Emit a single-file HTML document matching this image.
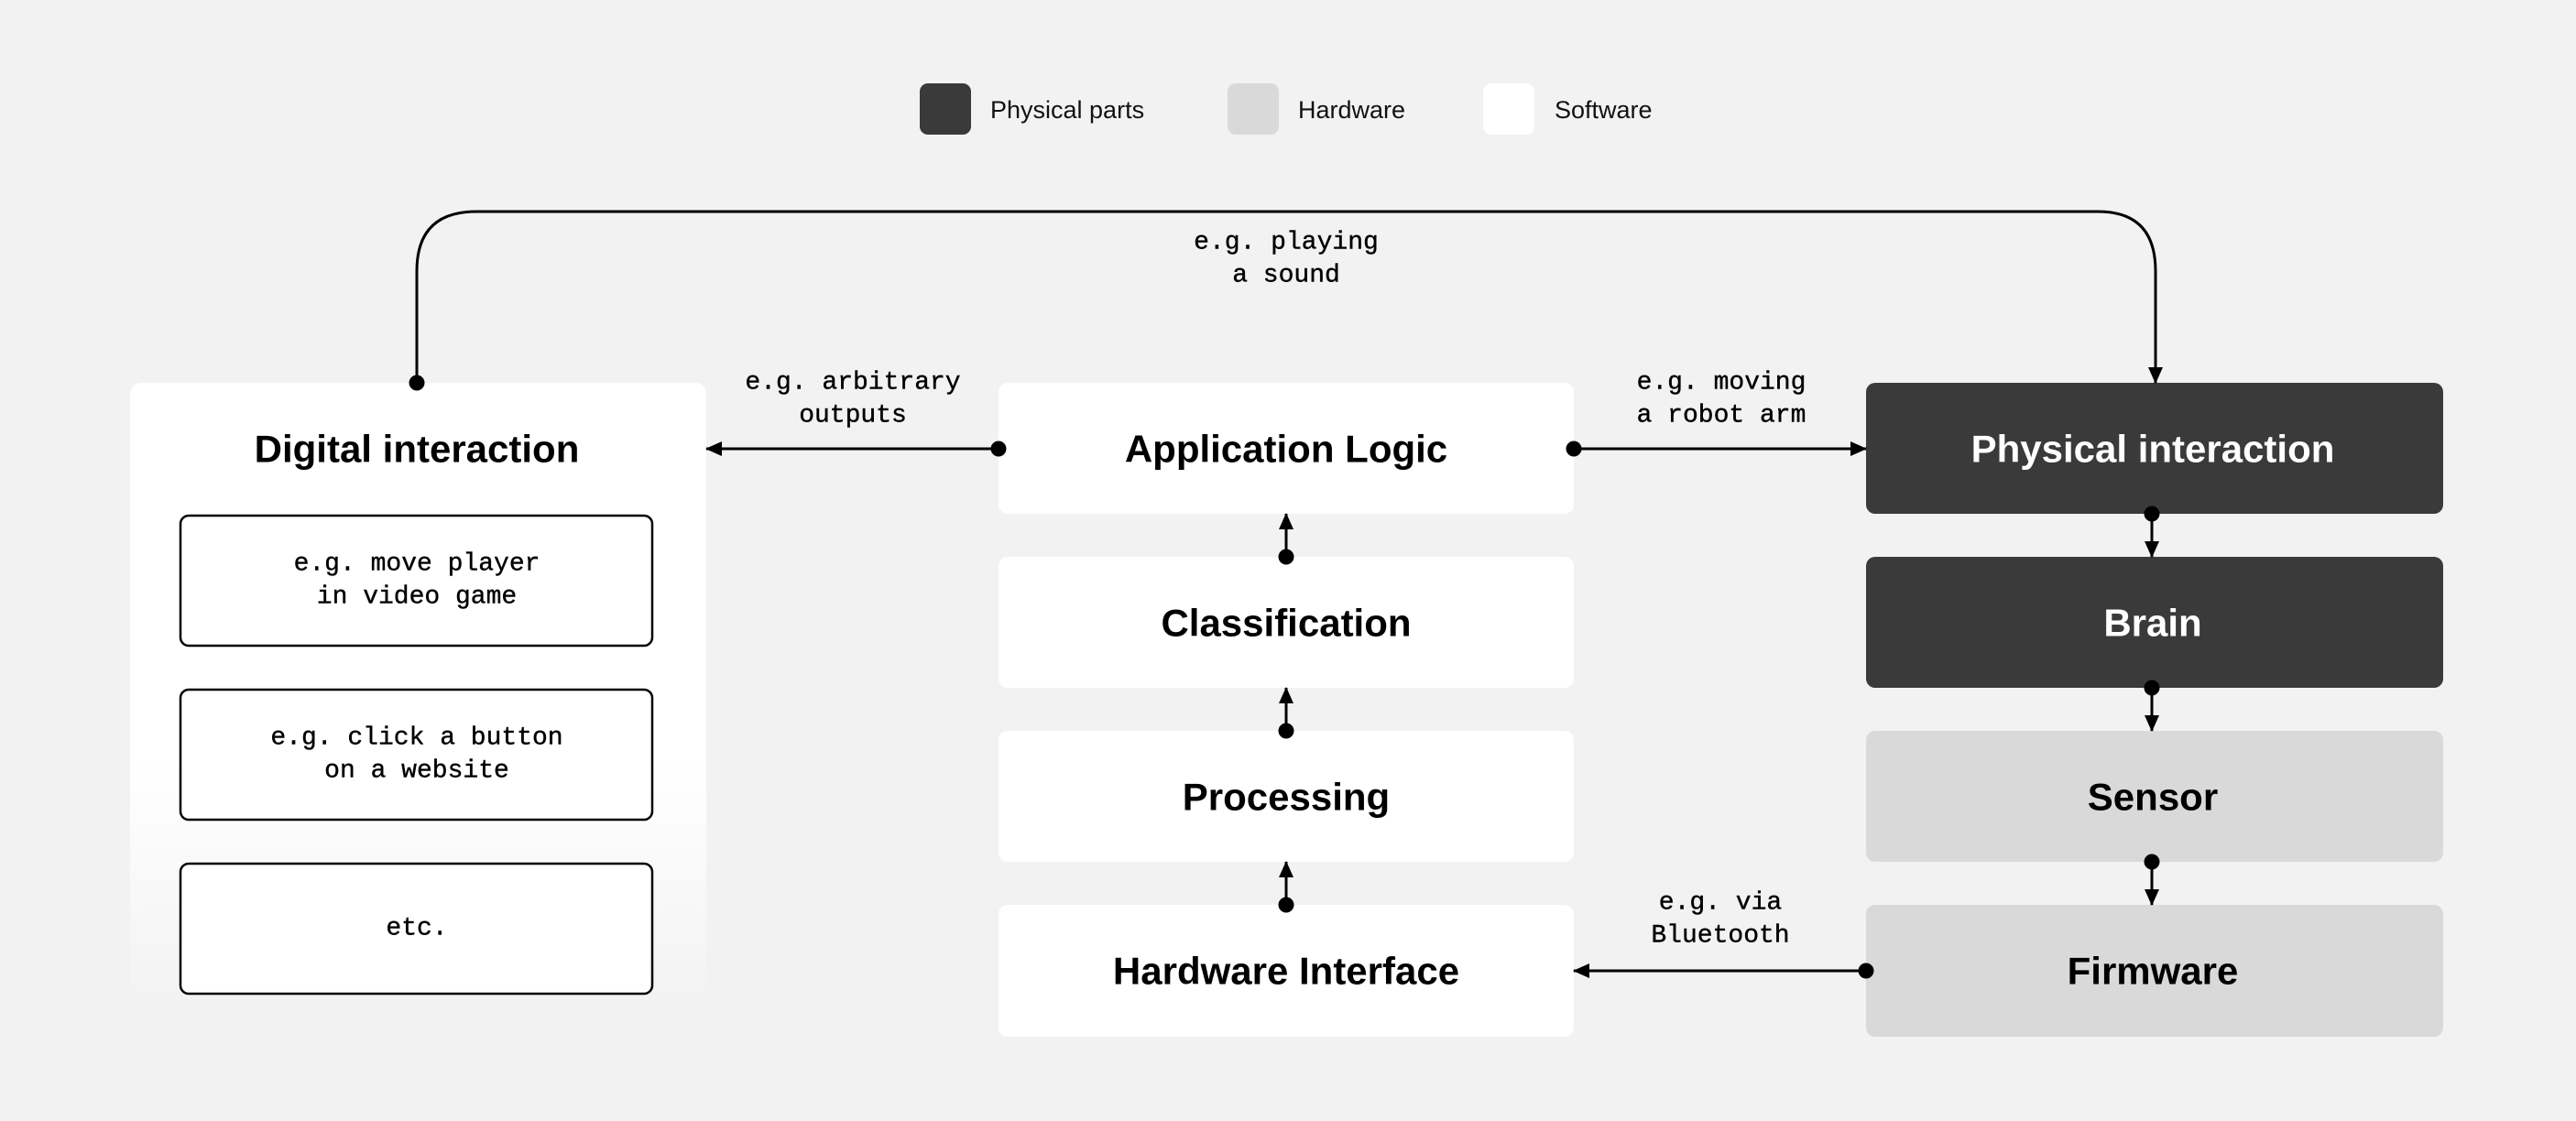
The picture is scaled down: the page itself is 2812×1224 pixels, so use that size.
<!DOCTYPE html>
<html><head><meta charset="utf-8"><style>
html,body{margin:0;padding:0;background:#f2f2f2;}
svg{display:block;}
.t{font-family:"Liberation Sans",sans-serif;font-weight:bold;font-size:42px;text-anchor:middle;dominant-baseline:central;}
.m{font-family:"Liberation Mono",monospace;font-size:28px;text-anchor:middle;dominant-baseline:central;fill:#000;stroke:#000;stroke-width:0.4;}
.l{font-family:"Liberation Sans",sans-serif;font-size:27px;dominant-baseline:central;fill:#111;}
</style></head><body>
<svg width="2812" height="1224" viewBox="0 0 2812 1224" xmlns="http://www.w3.org/2000/svg">
<defs>
<linearGradient id="g" x1="0" y1="0" x2="0" y2="1">
<stop offset="0.6" stop-color="#fff"/><stop offset="1" stop-color="#f2f2f2"/>
</linearGradient>
<marker id="a" markerWidth="18" markerHeight="18" refX="17" refY="9" orient="auto" markerUnits="userSpaceOnUse" viewBox="0 0 18 18"><path d="M0,1 L18,9 L0,17 Z" fill="#000"/></marker>
</defs>
<rect width="2812" height="1224" fill="#f2f2f2"/>
<rect x="1004" y="91" width="56" height="56" rx="9" fill="#3a3a3a"/>
<text class="l" x="1081" y="120">Physical parts</text>
<rect x="1340" y="91" width="56" height="56" rx="9" fill="#d9d9d9"/>
<text class="l" x="1417" y="120">Hardware</text>
<rect x="1619" y="91" width="56" height="56" rx="9" fill="#fff"/>
<text class="l" x="1697" y="120">Software</text>
<rect x="142" y="418" width="629" height="685" rx="12" fill="url(#g)"/>
<text class="t" x="455" y="490">Digital interaction</text>
<g fill="#fff" stroke="#000" stroke-width="2.5">
<rect x="197" y="563" width="515" height="142" rx="9"/>
<rect x="197" y="753" width="515" height="142" rx="9"/>
<rect x="197" y="943" width="515" height="142" rx="9"/>
</g>
<text class="m" x="455" y="616">e.g. move player</text>
<text class="m" x="455" y="652">in video game</text>
<text class="m" x="455" y="806">e.g. click a button</text>
<text class="m" x="455" y="842">on a website</text>
<text class="m" x="455" y="1014">etc.</text>
<g fill="#fff">
<rect x="1090" y="418" width="628" height="143" rx="10"/>
<rect x="1090" y="608" width="628" height="143" rx="10"/>
<rect x="1090" y="798" width="628" height="143" rx="10"/>
<rect x="1090" y="988" width="628" height="144" rx="10"/>
</g>
<text class="t" x="1404" y="490">Application Logic</text>
<text class="t" x="1404" y="680">Classification</text>
<text class="t" x="1404" y="870">Processing</text>
<text class="t" x="1404" y="1060">Hardware Interface</text>
<rect x="2037" y="418" width="630" height="143" rx="10" fill="#3a3a3a"/>
<rect x="2037" y="608" width="630" height="143" rx="10" fill="#3a3a3a"/>
<rect x="2037" y="798" width="630" height="143" rx="10" fill="#d9d9d9"/>
<rect x="2037" y="988" width="630" height="144" rx="10" fill="#d9d9d9"/>
<text class="t" x="2350" y="490" fill="#fff">Physical interaction</text>
<text class="t" x="2350" y="680" fill="#fff">Brain</text>
<text class="t" x="2350" y="870">Sensor</text>
<text class="t" x="2350" y="1060">Firmware</text>
<g stroke="#000" stroke-width="3" fill="none">
<path d="M455,418 V296 Q455,231 520,231 H2290 Q2353,231 2353,296 V418" marker-end="url(#a)"/>
<path d="M1090,490 H771" marker-end="url(#a)"/>
<path d="M1718,490 H2037" marker-end="url(#a)"/>
<path d="M2037,1060 H1718" marker-end="url(#a)"/>
<path d="M1404,608 V561" marker-end="url(#a)"/>
<path d="M1404,798 V751" marker-end="url(#a)"/>
<path d="M1404,988 V941" marker-end="url(#a)"/>
<path d="M2349,561 V608" marker-end="url(#a)"/>
<path d="M2349,751 V798" marker-end="url(#a)"/>
<path d="M2349,941 V988" marker-end="url(#a)"/>
</g>
<g fill="#000">
<circle cx="455" cy="418" r="8.5"/>
<circle cx="1090" cy="490" r="8.5"/>
<circle cx="1718" cy="490" r="8.5"/>
<circle cx="2037" cy="1060" r="8.5"/>
<circle cx="1404" cy="608" r="8.5"/>
<circle cx="1404" cy="798" r="8.5"/>
<circle cx="1404" cy="988" r="8.5"/>
<circle cx="2349" cy="561" r="8.5"/>
<circle cx="2349" cy="751" r="8.5"/>
<circle cx="2349" cy="941" r="8.5"/>
</g>
<text class="m" x="1404" y="265">e.g. playing</text>
<text class="m" x="1404" y="301">a sound</text>
<text class="m" x="931" y="418">e.g. arbitrary</text>
<text class="m" x="931" y="454">outputs</text>
<text class="m" x="1879" y="418">e.g. moving</text>
<text class="m" x="1879" y="454">a robot arm</text>
<text class="m" x="1878" y="986">e.g. via</text>
<text class="m" x="1878" y="1022">Bluetooth</text>
</svg>
</body></html>
